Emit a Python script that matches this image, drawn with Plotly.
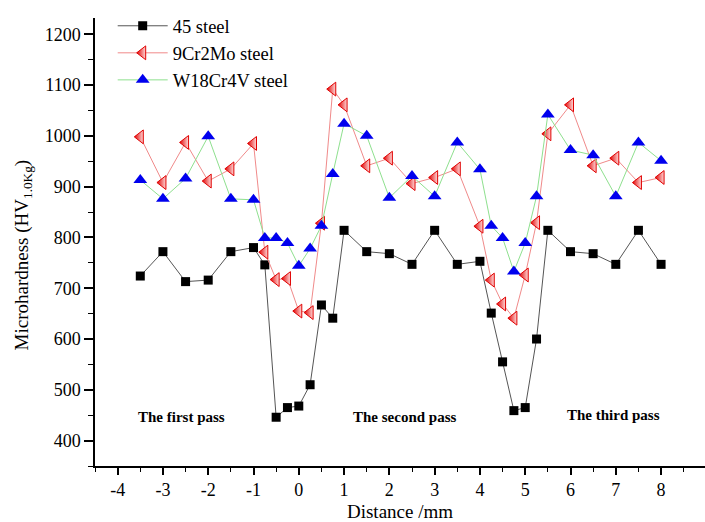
import plotly.graph_objects as go

# Distance from weld centre (mm)
distance = [-3.5, -3, -2.5, -2, -1.5, -1, -0.75, -0.5, -0.25, 0, 0.25, 0.5, 0.75,
            1, 1.5, 2, 2.5, 3, 3.5, 4, 4.25, 4.5, 4.75, 5, 5.25, 5.5, 6, 6.5, 7, 7.5, 8]

# Microhardness HV1.0Kg
steel_45 = [724, 772, 713, 716, 772, 780, 746, 446, 465, 468, 510, 667, 641,
            814, 772, 768, 747, 814, 747, 753, 651, 555, 459, 465, 600, 814, 772, 768, 747, 814, 747]
steel_9cr2mo = [998, 908, 987, 911, 935, 985, 771, 717, 719, 655, 652, 828, 1092,
                1061, 941, 956, 906, 918, 935, 822, 716, 669, 641, 726, 829, 1004, 1061, 941, 956, 908, 918]
steel_w18cr4v = [913, 876, 916, 999, 876, 874, 799, 799, 789, 744, 778, 823, 925,
                 1024, 1000, 878, 921, 881, 987, 934, 823, 799, 733, 789, 881, 1042, 972, 962, 881, 987, 951]

x_tick_vals = [-4, -3, -2, -1, 0, 1, 2, 3, 4, 5, 6, 7, 8]
x_tick_text = ["-4", "-3", "-2", "-1", "0", "1", "2", "3", "4", "5", "6", "7", "8"]

pass_labels = ["The first pass", "The second pass", "The third pass"]
pass_x = [-2.6, 2.35, 6.95]
pass_y = [446, 446, 450]

serif = "Liberation Serif, Times New Roman, serif"

fig = go.Figure()

fig.add_trace(go.Scatter(
    x=distance, y=steel_45, name="45 steel", mode="lines+markers",
    line=dict(color="#555555", width=1),
    marker=dict(symbol="square", size=9, color="black"),
))
fig.add_trace(go.Scatter(
    x=distance, y=steel_9cr2mo, name="9Cr2Mo steel", mode="lines+markers",
    line=dict(color="#f08a8a", width=1),
    marker=dict(symbol="triangle-left", size=12, color="#e00000",
                gradient=dict(type="horizontal", color="#ffd8d8"),
                line=dict(color="#e00000", width=1)),
))
fig.add_trace(go.Scatter(
    x=distance, y=steel_w18cr4v, name="W18Cr4V steel", mode="lines+markers",
    line=dict(color="#8ee08e", width=1),
    marker=dict(symbol="triangle-up", size=12, color="#0000ee"),
))

for txt, px, py in zip(pass_labels, pass_x, pass_y):
    fig.add_annotation(x=px, y=py, text=f"<b>{txt}</b>", showarrow=False,
                       font=dict(family=serif, size=15, color="black"))

# y-axis title placed as a rotated annotation
fig.add_annotation(xref="paper", yref="paper", x=-0.118, y=0.47,
                   xanchor="center", yanchor="middle", textangle=-90, showarrow=False,
                   text="Microhardness (HV<sub>1.0Kg</sub>)",
                   font=dict(family=serif, size=19, color="black"))

fig.update_layout(
    width=705, height=522,
    margin=dict(l=95, r=0, t=18, b=56),
    paper_bgcolor="white", plot_bgcolor="white",
    font=dict(family=serif, color="black", size=18),
    showlegend=True,
    legend=dict(x=0.029, y=1.024, xanchor="left", yanchor="top",
                bgcolor="rgba(0,0,0,0)", font=dict(family=serif, size=18.5),
                tracegroupgap=0, itemwidth=50),
)

fig.update_xaxes(
    range=[-4.5, 8.97], tickvals=x_tick_vals, ticktext=x_tick_text,
    showgrid=False, zeroline=False, showline=True, linecolor="black", linewidth=1.5,
    ticks="outside", ticklen=7, tickwidth=1.5, tickcolor="black",
    minor=dict(dtick=0.5, tick0=0, ticks="outside", ticklen=4, tickwidth=1, tickcolor="black"),
    tickfont=dict(family=serif, size=18),
    title=dict(text="Distance /mm", font=dict(family=serif, size=19), standoff=9),
)
fig.update_yaxes(
    range=[350, 1232], dtick=100, tick0=0,
    showgrid=False, zeroline=False, showline=True, linecolor="black", linewidth=1.5,
    ticks="outside", ticklen=9, tickwidth=1.5, tickcolor="black",
    minor=dict(dtick=50, tick0=0, ticks="outside", ticklen=5, tickwidth=1, tickcolor="black"),
    tickfont=dict(family=serif, size=18),
)

fig.write_html("out.html")
